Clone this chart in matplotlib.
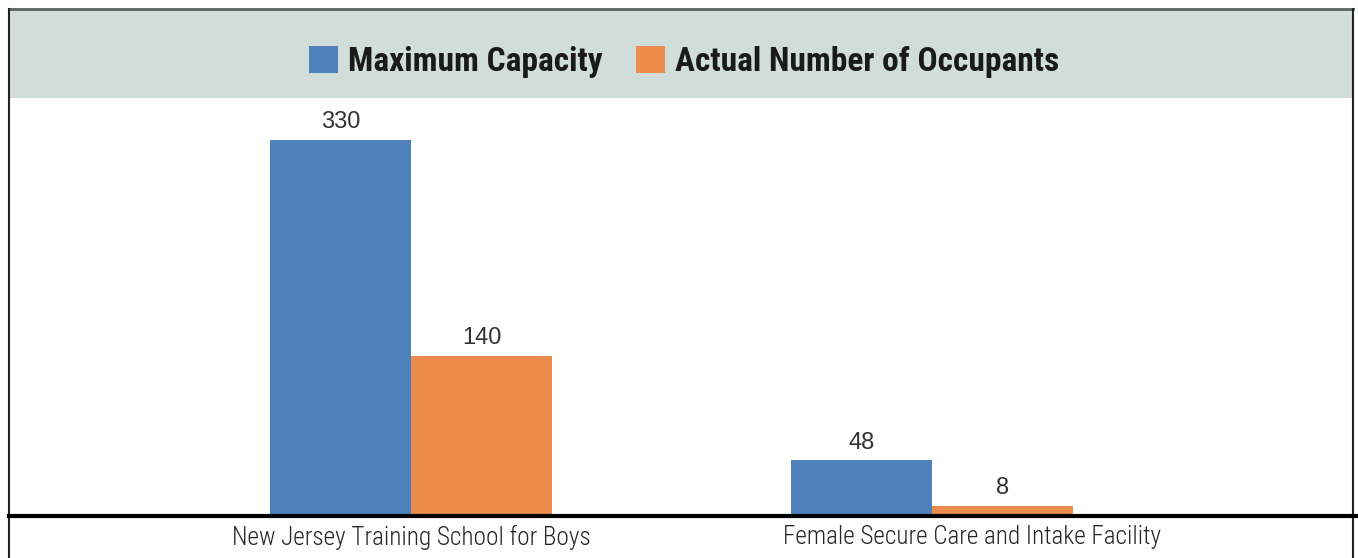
import numpy as np
import matplotlib.pyplot as plt
from matplotlib import font_manager
from matplotlib.patches import Rectangle
from matplotlib.lines import Line2D
from matplotlib.transforms import ScaledTranslation

categories = ["New Jersey Training School for Boys", "Female Secure Care and Intake Facility"]
series_names = ["Maximum Capacity", "Actual Number of Occupants"]
max_capacity = [330, 48]
actual_occupants = [140, 8]

BLUE = "#4f81bd"
ORANGE = "#eb8c4d"
BAND = "#d0ddd9"

# pick a condensed face if one is installed
names = {f.name for f in font_manager.fontManager.ttflist}
stretches = {(f.name, f.stretch) for f in font_manager.fontManager.ttflist}
narrow = {"family": ["DejaVu Sans"], "stretch": "normal"}
for cand in ["Liberation Sans Narrow", "Roboto Condensed", "Open Sans Condensed"]:
    if cand in names:
        narrow = {"family": [cand, "DejaVu Sans"], "stretch": "normal"}
        break
else:
    if any(n == "DejaVu Sans" and s in ("condensed", "semi-condensed", 700) for n, s in stretches):
        narrow = {"family": ["DejaVu Sans"], "stretch": "condensed"}

W, H = 1358, 558
fig = plt.figure(figsize=(W / 100, H / 100), dpi=100)

# legend band at the top
fig.patches.append(Rectangle((10 / W, 1 - 98 / H), 1343 / W, 88 / H,
                             transform=fig.transFigure, facecolor=BAND,
                             edgecolor="none", zorder=-1))

ax = fig.add_axes([10 / W, 1 - 515 / H, 1343 / W, 417 / H])
x = np.arange(len(categories))
bw = 0.271
b1 = ax.bar(x - bw / 2, max_capacity, bw, color=BLUE, label=series_names[0])
b2 = ax.bar(x + bw / 2, actual_occupants, bw, color=ORANGE, label=series_names[1])

for bars, vals in ((b1, max_capacity), (b2, actual_occupants)):
    for rect, v in zip(bars, vals):
        ax.text(rect.get_x() + rect.get_width() / 2, v + 6, str(v),
                ha="center", va="bottom", fontsize=17, color="#333333",
                family=["Liberation Sans", "DejaVu Sans"])

ax.set_xlim(-0.770, 1.808)
ax.set_ylim(0, 367)
ax.set_yticks([])
ax.set_xticks(x)
ax.set_xticklabels(categories, fontsize=18.2, color="#262626", weight="light",
                   family=narrow["family"], stretch=narrow["stretch"])
ax.tick_params(axis="x", length=0, pad=7)
# the second label sits a little right of its bars in the original
lab2 = ax.get_xticklabels()[1]
lab2.set_transform(lab2.get_transform() + ScaledTranslation(0.40, 0, fig.dpi_scale_trans))
for s in ax.spines.values():
    s.set_visible(False)

leg = fig.legend(handles=[b1, b2], labels=series_names, loc="center",
                 bbox_to_anchor=(684 / W, 1 - 62 / H), ncol=2, frameon=False,
                 handlelength=0.88, handleheight=0.88, handletextpad=0.3,
                 columnspacing=1.0,
                 prop={"family": narrow["family"], "stretch": narrow["stretch"],
                       "weight": "bold", "size": 24})
leg.set_zorder(5)
for t in leg.get_texts():
    t.set_color("#1a1a1a")

# frame and baseline
fig.lines.append(Line2D([9 / W, 1353 / W], [1 - 9 / H, 1 - 9 / H],
                        transform=fig.transFigure, color="#5a625f", lw=2))
fig.lines.append(Line2D([9 / W, 9 / W], [0, 1 - 9 / H],
                        transform=fig.transFigure, color="#222222", lw=1.5))
fig.lines.append(Line2D([1353 / W, 1353 / W], [0, 1 - 9 / H],
                        transform=fig.transFigure, color="#222222", lw=1.5))
fig.lines.append(Line2D([9 / W, 1], [1 - 515.5 / H, 1 - 515.5 / H],
                        transform=fig.transFigure, color="black", lw=3))

fig.savefig("out.png", dpi=100)
